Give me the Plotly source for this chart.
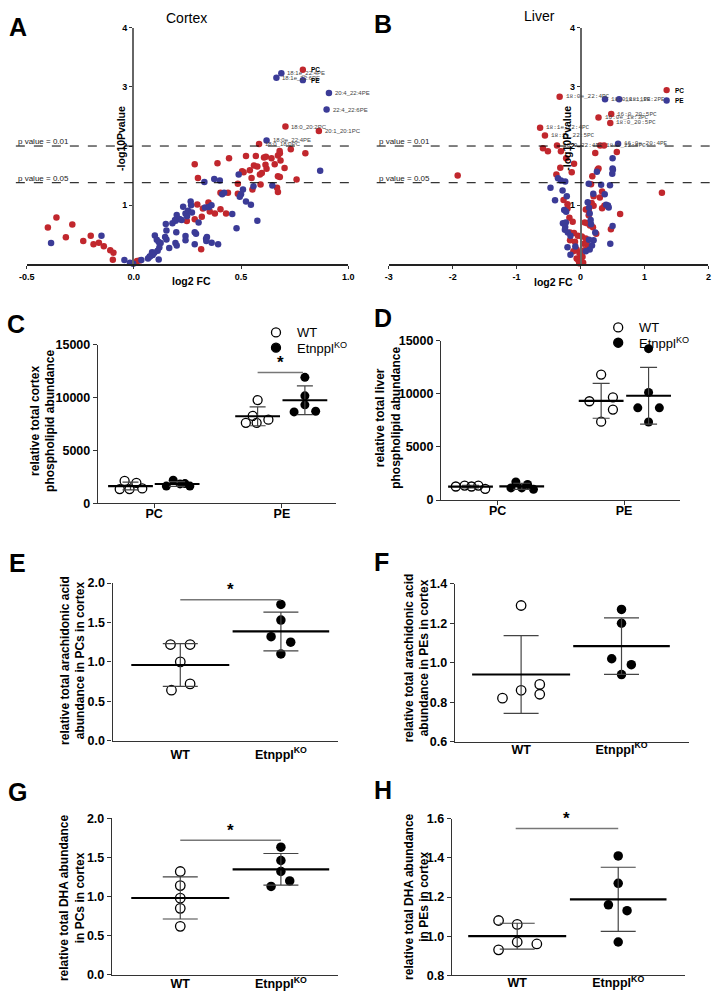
import numpy as np
import plotly.graph_objects as go

W, H = 720, 1000
RED = '#C1272D'
BLUE = '#3B3B97'
FONT = 'Liberation Sans, Arial, sans-serif'

# ---------------- A: cortex volcano (log2 FC, -log10 p) ----------------
cortex_pc_fc = [-0.401, -0.361, -0.287, -0.317, -0.201, -0.236, -0.188, -0.163, -0.14, -0.11,
                -0.095, -0.098, 0.015, 0.027, 0.005, 0.247, 0.284, 0.296, 0.322, 0.348,
                0.317, 0.354, 0.378, 0.404, 0.43, 0.314, 0.284, 0.299, 0.39, 0.444,
                0.404, 0.439, 0.485, 0.485, 0.505, 0.512, 0.541, 0.523, 0.569, 0.56,
                0.576, 0.549, 0.553, 0.591, 0.588, 0.597, 0.607, 0.614, 0.619, 0.616,
                0.642, 0.657, 0.672, 0.681, 0.68, 0.684, 0.703, 0.672, 0.681, 0.668,
                0.672, 0.732, 0.8, 0.759]
cortex_pc_p = [0.622, 0.794, 0.672, 0.456, 0.483, 0.394, 0.339, 0.367, 0.306, 0.239,
               0.194, 0.078, 0.056, 0.067, 0.028, 0.733, 0.761, 1.011, 0.944, 1.044,
               0.806, 0.894, 0.861, 0.933, 0.861, 0.256, 1.694, 1.461, 1.711, 1.794,
               1.211, 1.211, 1.194, 1.361, 1.572, 1.556, 1.589, 1.833, 1.833, 1.672,
               1.656, 1.461, 1.267, 1.35, 1.517, 1.544, 1.806, 1.683, 1.617, 1.817,
               1.794, 1.694, 1.839, 1.878, 1.917, 1.756, 1.628, 1.489, 1.478, 1.294,
               1.222, 1.944, 1.878, 1.433]
cortex_pe_fc = [-0.386, -0.151, -0.044, -0.018, -0.003, 0.035, 0.066, 0.076, 0.085, 0.098,
                0.107, 0.116, 0.125, 0.119, 0.111, 0.096, 0.088, 0.073, 0.116, 0.149,
                0.152, 0.146, 0.152, 0.165, 0.18, 0.192, 0.2, 0.195, 0.198, 0.194,
                0.2, 0.213, 0.223, 0.23, 0.241, 0.248, 0.253, 0.265, 0.267, 0.271,
                0.241, 0.241, 0.284, 0.29, 0.284, 0.302, 0.329, 0.332, 0.337, 0.341,
                0.338, 0.363, 0.393, 0.375, 0.401, 0.412, 0.421, 0.459, 0.479, 0.489,
                0.509, 0.5, 0.494, 0.523, 0.546, 0.558, 0.576, 0.646, 0.869, 0.35, 0.362]
cortex_pe_p = [0.361, 0.483, 0.072, 0.028, 0.011, 0.072, 0.1, 0.139, 0.206, 0.489,
               0.417, 0.378, 0.361, 0.283, 0.228, 0.194, 0.156, 0.128, 0.083, 0.683,
               0.572, 0.461, 0.422, 0.278, 0.694, 0.75, 0.833, 0.739, 0.544, 0.361,
               0.317, 0.767, 0.75, 0.972, 0.861, 0.811, 0.906, 1.061, 1.0, 0.878,
               0.478, 0.406, 0.544, 0.517, 0.339, 0.706, 1.394, 0.961, 0.433, 0.461,
               0.394, 0.367, 0.339, 1.444, 1.417, 1.183, 1.211, 0.85, 0.611, 1.517,
               1.267, 1.183, 1.144, 1.061, 1.006, 1.322, 0.739, 1.333, 1.583, 0.97, 1.0]
cortex_lab_names = ['18:1e_22:4PE', '18:1e_22:6PE', '20:4_22:4PE', '22:4_22:6PE',
                    '18:0_20:2PC', '20:1_20:1PC', '18:0e_22:4PE', '18:0_18:0PC']
cortex_lab_fc = [0.688, 0.665, 0.91, 0.899, 0.707, 0.863, 0.619, 0.584]
cortex_lab_p = [3.23, 3.155, 2.895, 2.617, 2.33, 2.255, 2.095, 2.033]

# ---------------- B: liver volcano ----------------
liver_pc_fc = [-1.922, 1.273, 0.619, 0.475, -0.588, -0.511, -0.307, -0.102, -0.225, -0.317,
               -0.378, -0.138, 0.23, 0.567, 0.266, 0.281, 0.184, 0.164, 0.337, 0.204,
               0.302, 0.174, 0.204, 0.373, 0.337, -0.266, -0.204, -0.204, -0.174, -0.123,
               0.082, 0.128, 0.128, 0.066, 0.102, 0.148, 0.194, 0.245, -0.164, -0.102,
               -0.041, -0.164, -0.087, 0.02, 0.082, 0.051, 0.118, -0.061, -0.112, -0.02,
               0.0, 0.031, -0.061, -0.036, 0.015, 0.041, -0.02, 0.061, 0.092, 0.368]
liver_pc_p = [1.5, 1.211, 0.85, 0.594, 1.961, 1.911, 1.911, 1.7, 1.794, 1.633,
              1.517, 1.556, 1.883, 1.9, 1.6, 1.622, 1.489, 1.356, 1.233, 1.15,
              1.128, 1.039, 0.989, 0.989, 0.95, 1.089, 1.017, 0.944, 0.789, 0.722,
              0.928, 0.906, 0.828, 0.706, 0.694, 0.656, 0.628, 0.517, 0.539, 0.528,
              0.483, 0.406, 0.383, 0.472, 0.439, 0.35, 0.306, 0.25, 0.222, 0.194,
              0.156, 0.128, 0.1, 0.072, 0.05, 0.028, 0.017, 0.239, 0.361, 2.01]
liver_pe_fc = [0.501, 0.501, 0.506, 0.496, 0.46, 0.322, 0.378, 0.199, 0.128, 0.256,
               0.112, 0.133, 0.399, 0.429, 0.44, 0.501, 0.465, -0.353, -0.307, -0.24,
               -0.47, -0.281, -0.399, -0.215, -0.256, -0.225, -0.276, -0.23, -0.24, -0.245,
               -0.199, -0.158, 0.143, 0.158, 0.164, 0.23, 0.204, 0.179, -0.204, -0.158,
               -0.082, 0.133, 0.143, 0.082]
liver_pe_p = [1.794, 1.622, 1.6, 1.533, 1.339, 1.344, 1.183, 1.194, 1.361, 1.567,
              1.05, 0.956, 1.006, 0.994, 0.961, 0.65, 0.35, 1.456, 1.417, 1.4,
              1.294, 1.25, 1.083, 1.15, 0.917, 0.889, 0.694, 0.706, 0.633, 0.583,
              0.539, 0.483, 0.861, 0.75, 0.678, 0.539, 0.406, 0.317, 0.289, 0.161,
              0.3, 0.417, 0.25, 0.222]
liver_lab_names = ['18:0e_22:4PC', '18:0_18:1PE', '18:1_18:2PE', '16:0_20:5PC', '16:0e_18:3PC',
                   '18:0_20:5PC', '18:1e_22:4PC', '18:1e_22:5PC', '16:0_22:4PC', '18:0_22:4PC',
                   '16:0e_20:4PE']
liver_lab_fc = [-0.327, 0.383, 0.603, 0.48, 0.281, 0.465, -0.633, -0.557, -0.368, 0.307, 0.587]
liver_lab_p = [2.833, 2.79, 2.79, 2.54, 2.483, 2.39, 2.31, 2.18, 2.01, 2.01, 2.04]

# ---------------- C / D: total phospholipid abundance ----------------
c_wt_pc = [1340, 2110, 1340, 1930, 1400]
c_ko_pc = [1620, 2170, 1830, 1860, 1620]
c_wt_pe = [9750, 8250, 7600, 7600, 7900]
c_ko_pe = [11900, 10150, 9300, 8630, 8690]
d_wt_pc = [1270, 1360, 1270, 1360, 1050]
d_ko_pc = [1140, 1700, 1140, 1460, 1000]
d_wt_pe = [11800, 9290, 9660, 8510, 7370]
d_ko_pe = [14240, 10120, 8670, 8670, 7340]

# ---------------- E-H: fatty acid abundance ----------------
e_wt = [1.22, 1.22, 1.0, 0.64, 0.72]
e_ko = [1.73, 1.53, 1.32, 1.25, 1.10]
f_wt = [1.29, 0.82, 0.86, 0.89, 0.84]
f_ko = [1.27, 1.20, 1.02, 0.99, 0.94]
g_wt = [1.32, 1.14, 0.98, 0.85, 0.62]
g_ko = [1.63, 1.46, 1.32, 1.20, 1.13]
h_wt = [1.08, 1.06, 0.97, 0.96, 0.93]
h_ko = [1.41, 1.27, 1.16, 1.13, 0.97]

# horizontal spread of overlapping dots (pixels), as in the GraphPad layout
c_jit = {'wt_pc': [-11, -6, -1, 6, 12], 'ko_pc': [-11, -4, 3, 8, 13],
         'wt_pe': [0, -5, -12, -1, 11], 'ko_pe': [0, 0, 0, -11, 11]}
d_jit = {'wt_pc': [-15, -6, 1, 8, 15], 'ko_pc': [-11, -6, 0, 6, 12],
         'wt_pe': [0, -12, 12, 12, 0], 'ko_pe': [0, 0, -11, 11, 0]}
e_jit = ([-10, 10, 0, -9, 10], [0, 0, -10, 10, 0])
f_jit = ([0, -19, 0, 19, 19], [0, 0, -10, 10, 0])
g_jit = ([0, 0, 0, 0, 0], [0, 0, 0, 9, -10])
h_jit = ([-19, 0, 0, 20, -19], [0, 0, -10, 9, 0])


def X(px):
    return px / W


def Y(py):
    return 1 - py / H


fig = go.Figure()
annotations = []
shapes = []


def note(px, py, text, size, xanchor='center', yanchor='middle', angle=0, color='black', family=FONT):
    annotations.append(dict(x=X(px), y=Y(py), xref='paper', yref='paper', text=text, showarrow=False,
                            xanchor=xanchor, yanchor=yanchor, textangle=angle,
                            font=dict(size=size, color=color, family=family)))


def dot(px, py, r, fill, line='black', lw=1.3):
    shapes.append(dict(type='circle', xref='paper', yref='paper', xsizemode='pixel', ysizemode='pixel',
                       xanchor=X(px), yanchor=Y(py), x0=-r, x1=r, y0=-r, y1=r,
                       fillcolor=fill, line=dict(color=line, width=lw)))


def axis_style(**kw):
    d = dict(showline=True, linecolor='#333', linewidth=1.3, ticks='outside', ticklen=4,
             tickwidth=1.2, tickcolor='#333', showgrid=False, zeroline=False,
             tickfont=dict(family=FONT, size=12.5, color='black', weight='bold'))
    d.update(kw)
    return d


layout = {}

# ---------- volcano panels ----------
def volcano(n, xdom, ydom, xrange, xticks, xtext, ypos, pc, pe, labs, lab_font, lab_color):
    xa, ya = 'x%d' % n, 'y%d' % n
    layout['xaxis%d' % n] = axis_style(domain=xdom, range=xrange, anchor=ya, tickvals=xticks,
                                       ticktext=xtext, ticklen=3, linewidth=1.5, linecolor='#222',
                                       tickfont=dict(family=FONT, size=9, color='black', weight='bold'))
    layout['yaxis%d' % n] = axis_style(domain=ydom, range=[0, 4], anchor='free', position=ypos,
                                       tickvals=[1, 2, 3, 4], ticklen=3, linewidth=1.5, linecolor='#666',
                                       tickfont=dict(family=FONT, size=9, color='black', weight='bold'))
    names, lfc, lp = labs
    pc_x = list(pc[0]) + [f for nm, f in zip(names, lfc) if nm.endswith('PC')]
    pc_y = list(pc[1]) + [p for nm, p in zip(names, lp) if nm.endswith('PC')]
    pe_x = list(pe[0]) + [f for nm, f in zip(names, lfc) if nm.endswith('PE')]
    pe_y = list(pe[1]) + [p for nm, p in zip(names, lp) if nm.endswith('PE')]
    for xs, ys, col in [(pc_x, pc_y, RED), (pe_x, pe_y, BLUE)]:
        fig.add_trace(go.Scatter(x=xs, y=ys, mode='markers', xaxis=xa, yaxis=ya, cliponaxis=False,
                                 showlegend=False, marker=dict(size=6.5, color=col, line=dict(width=0))))
    for nm, f, p in zip(names, lfc, lp):
        annotations.append(dict(x=f, y=p, xref=xa, yref=ya, text=nm, showarrow=False, xanchor='left',
                                xshift=4, font=dict(size=lab_font[1], family=lab_font[0], color=lab_color)))


volcano(1, [X(19), X(347)], [Y(261), Y(21)], [-0.5, 1.0], [-0.5, 0, 0.5, 1.0],
        ['-0.5', '0.0', '0.5', '1.0'], X(127.3), (cortex_pc_fc, cortex_pc_p),
        (cortex_pe_fc, cortex_pe_p), (cortex_lab_names, cortex_lab_fc, cortex_lab_p),
        (FONT, 6), '#444')
volcano(2, [X(388.3), X(714.3)], [Y(261), Y(21)], [-3, 2], [-3, -2, -1, 0, 1, 2],
        ['-3', '-2', '-1', '0', '1', '2'], X(584), (liver_pc_fc, liver_pc_p),
        (liver_pe_fc, liver_pe_p), (liver_lab_names, liver_lab_fc, liver_lab_p),
        ('Liberation Mono, monospace', 6), '#444')

for n, x0, x1 in [(1, 8, 352), (2, 376, 720)]:
    for yv, txt in [(2, 'p value = 0.01'), (1.38, 'p value = 0.05')]:
        shapes.append(dict(type='line', xref='paper', yref='y%d' % n, x0=X(x0), x1=X(x1), y0=yv, y1=yv,
                           line=dict(color='black', width=1, dash='dash')))
        annotations.append(dict(x=X(x0), y=yv, xref='paper', yref='y%d' % n, text=txt, showarrow=False,
                                xanchor='left', yanchor='bottom', yshift=-2,
                                font=dict(size=8, family=FONT, color='#222')))

note(182, 11, 'Cortex', 14)
note(542, 9, 'Liver', 14)
note(186.7, 277.5, '<b>log2 FC</b>', 10.5)
note(556, 279, '<b>log2 FC</b>', 10.5)
note(115, 133, '<b>-log10Pvalue</b>', 10.5, angle=-90)
note(570.7, 133, '<b>-log10Pvalue</b>', 10.5, angle=-90)
# volcano legends
for cx, cy in [(300.7, 63.7), (671.7, 84.3)]:
    dot(cx, cy, 3.2, RED, line=RED, lw=0)
    dot(cx, cy + 10.5, 3.2, BLUE, line=BLUE, lw=0)
    note(cx + 6, cy, '<b>PC</b>', 6.5, xanchor='left')
    note(cx + 6, cy + 10.5, '<b>PE</b>', 6.5, xanchor='left')


# ---------- dot plots ----------
def group(n, xc, ppu, vals, jit, filled, msize, mw, cap):
    xa, ya = 'x%d' % n, 'y%d' % n
    xs = [xc + j / ppu for j in jit]
    if filled:
        mk = dict(symbol='circle', size=msize, color='black', line=dict(width=0))
    else:
        mk = dict(symbol='circle-open', size=msize, color='black', line=dict(width=1.3))
    fig.add_trace(go.Scatter(x=xs, y=vals, mode='markers', marker=mk, xaxis=xa, yaxis=ya,
                             cliponaxis=False, showlegend=False))
    m, sd = float(np.mean(vals)), float(np.std(vals, ddof=1))
    fig.add_trace(go.Scatter(x=[xc], y=[m], mode='markers', xaxis=xa, yaxis=ya, cliponaxis=False,
                             showlegend=False,
                             marker=dict(symbol='line-ew', size=mw, color='black',
                                         line=dict(width=2.2, color='black')),
                             error_y=dict(type='data', array=[sd], width=cap, thickness=1.2,
                                          color='#444')))


def dot_axes(n, xdom, ydom, xrange, yrange, ytick, tickvals, ticktext, fmt='d', xticks='', standoff=0):
    layout['xaxis%d' % n] = axis_style(domain=xdom, range=xrange, anchor='y%d' % n,
                                       tickvals=tickvals, ticktext=ticktext, ticks=xticks,
                                       ticklabelstandoff=standoff)
    layout['yaxis%d' % n] = axis_style(domain=ydom, range=yrange, anchor='x%d' % n, dtick=ytick,
                                       tick0=yrange[0], tickformat=fmt)


KO = 'Etnppl<sup>KO</sup>'

# C
dot_axes(3, [X(91.7), X(334.3)], [Y(503.3), Y(342.3)], [-0.44, 1.422], [0, 15000], 5000,
         [0, 1], ['PC', 'PE'], xticks='outside', standoff=-5)
for key, xc, fill, vals in [('wt_pc', -0.185, False, c_wt_pc), ('ko_pc', 0.18, True, c_ko_pc),
                            ('wt_pe', 0.81, False, c_wt_pe), ('ko_pe', 1.18, True, c_ko_pe)]:
    group(3, xc, 130.3, vals, c_jit[key], fill, 9, 32, 8)
# D
dot_axes(4, [X(441.7), X(685)], [Y(500), Y(338.3)], [-0.4465, 1.44], [0, 15000], 5000,
         [0, 1], ['PC', 'PE'], xticks='outside', standoff=-5)
for key, xc, fill, vals in [('wt_pc', -0.214, False, d_wt_pc), ('ko_pc', 0.191, True, d_ko_pc),
                            ('wt_pe', 0.819, False, d_wt_pe), ('ko_pe', 1.194, True, d_ko_pe)]:
    group(4, xc, 129, vals, d_jit[key], fill, 9, 32, 8.5)

# E-H
panels = [
    (5, [X(106.7), X(336.7)], [Y(744), Y(584.3)], [-0.6725, 1.569], [0, 2], 0.5, 102.6, e_wt, e_ko, e_jit, 2),
    (6, [X(455.7), X(695)], [Y(745), Y(585)], [-0.66, 1.677], [0.6, 1.4], 0.2, 102.4, f_wt, f_ko, f_jit, -4),
    (7, [X(106), X(336.7)], [Y(981.7), Y(822.7)], [-0.679, 1.569], [0, 2], 0.5, 102.6, g_wt, g_ko, g_jit, -3),
    (8, [X(452.7), X(690)], [Y(982), Y(823.3)], [-0.6466, 1.657], [0.8, 1.6], 0.2, 103, h_wt, h_ko, h_jit, -4),
]
for n, xd, yd, xr, yr, dt, ppu, wt, ko, jit, so in panels:
    dot_axes(n, xd, yd, xr, yr, dt, [0, 1], ['WT', KO], fmt='.1f', standoff=so)
    group(n, 0, ppu, wt, jit[0], False, 9.5, 70, 17.5)
    group(n, 1, ppu, ko, jit[1], True, 9.5, 69, 17.5)

# significance bars
for n, x0, x1, yv in [(3, 0.81, 1.165, 12350), (5, 0, 1, 1.79), (7, 0, 1, 1.72), (8, -0.015, 1, 1.55)]:
    shapes.append(dict(type='line', xref='x%d' % n, yref='y%d' % n, x0=x0, x1=x1, y0=yv, y1=yv,
                       line=dict(color='#777', width=1.5)))
    annotations.append(dict(x=(x0 + x1) / 2, y=yv, xref='x%d' % n, yref='y%d' % n, text='<b>*</b>',
                            showarrow=False, yanchor='middle', yshift=10,
                            font=dict(size=17, family=FONT, color='black')))

# C / D legends
for cx, cy in [(273.3, 330), (622.3, 325)]:
    dot(cx, cy, 4.5, 'white')
    dot(cx, cy + 15.5, 4.5, 'black')
    note(cx + 19, cy, 'WT', 13, xanchor='left')
    note(cx + 19, cy + 15.5, KO, 13, xanchor='left')

# axis titles
note(35.5, 420, '<b>relative total cortex<br>phospholipid abundance</b>', 12, angle=-90)
note(387.5, 416.7, '<b>relative total liver<br>phospholipid abundance</b>', 12, angle=-90)
note(65.5, 663, '<b>relative total arachidonic acid<br>abundance in PCs in cortex</b>', 12, angle=-90)
note(416.7, 660, '<b>relative total arachidonic acid<br>abundance in PEs in cortex</b>', 12, angle=-90)
note(66, 903, '<b>relative total DHA abundance<br>in PCs in cortex</b>', 12, angle=-90)
note(417, 901.7, '<b>relative total DHA abundance<br>in PEs in cortex</b>', 12, angle=-90)

# panel letters
for letter, px, py in [('A', 10, 20), ('B', 382.5, 17), ('C', 8, 322), ('D', 382.5, 315),
                       ('E', 9.5, 563.5), ('F', 381, 563), ('G', 10, 796.5), ('H', 382, 794)]:
    note(px, py, '<b>%s</b>' % letter, 25)

fig.update_layout(width=W, height=H, margin=dict(l=0, r=0, t=0, b=0), paper_bgcolor='white',
                  plot_bgcolor='white', showlegend=False, annotations=annotations, shapes=shapes,
                  font=dict(family=FONT), **layout)

# drop the default 8px page margin so the figure sits at the window origin
fig.write_html('out.html', config={'displayModeBar': False},
               post_script="document.body.style.margin='0px';")
